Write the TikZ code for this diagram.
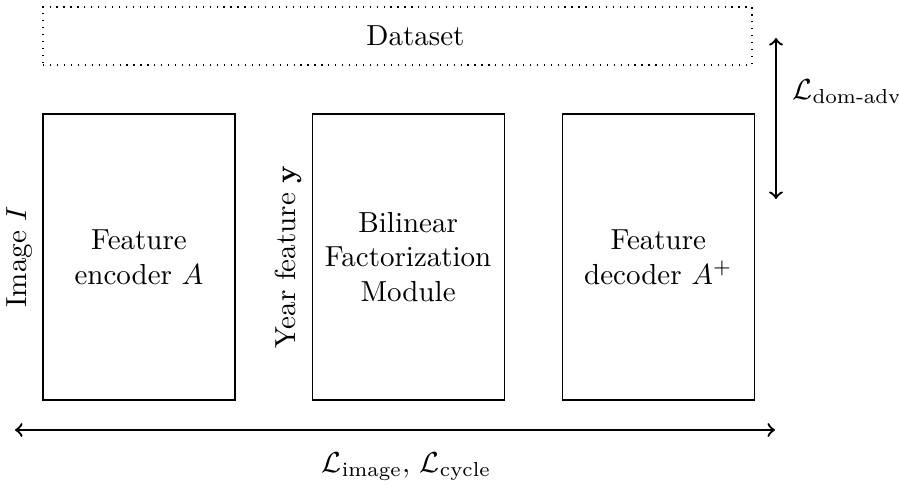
\documentclass[tikz,border=0pt]{standalone}
\usepackage{amsmath}
\usepackage{amssymb}
\usetikzlibrary{positioning}

\begin{document}
\begin{tikzpicture}[block/.style={draw,minimum width=2.327cm,minimum height=3.467cm,align=center,inner sep=0pt},
	sidelabel/.style={rotate=90,anchor=south},
	loss/.style={thick,<->}]
	\useasboundingbox (0,0) rectangle (10.897,5.867);

	\node[draw,dotted,minimum width=8.594cm,minimum height=0.703cm,inner sep=0pt,
	      label={[xshift=0.218cm]center:Dataset}] (data) at (4.818,5.430) {};

	\node[block] (enc) at (1.685,2.752) {Feature\\encoder $A$};
	\node[block] (bfm) [right=0.921cm of enc] {Bilinear\\Factorization\\Module};
	\node[block] (dec) [right=0.691cm of bfm] {Feature\\decoder $A^{+}$};

	\node[sidelabel] (img) at (enc.west) {Image $I$};
	\node[sidelabel] (year) at (bfm.west) {Year feature $\mathbf{y}$};

	\coordinate (h_l) at (0.182,0.655);
	\coordinate (h_r) at (9.394,0.655);
	\coordinate (v_t) at (9.406,5.406);
	\coordinate (v_b) at (9.406,3.455);

	\draw[loss] (h_l) -- node[below=4pt,pos=0.515] (l_img) {$\mathcal{L}_{\text{image}},\,\mathcal{L}_{\text{cycle}}$} (h_r);
	\draw[loss] (v_t) -- node[right=2pt,pos=0.335] (l_dom) {$\mathcal{L}_{\text{dom-adv}}$} (v_b);

\end{tikzpicture}
\end{document}
